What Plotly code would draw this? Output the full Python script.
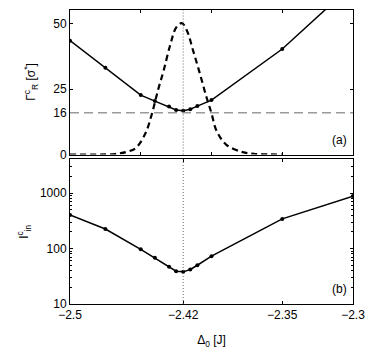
import plotly.graph_objects as go

# top panel: decay rate vs detuning
delta0 = [-2.5, -2.475, -2.45, -2.44, -2.43, -2.425, -2.42, -2.415, -2.41, -2.40, -2.35, -2.30]
gamma_rc = [43.5, 33.1, 22.7, 20.4, 18.3, 17.0, 16.7, 17.3, 18.5, 20.8, 40.3, 65.0]

# bottom panel: critical current (log)
i_in_c = [404, 225, 97, 68, 47, 39, 38, 42, 50, 73, 343, 884]

# dashed peak curve (top panel)
peak_x = [-2.5, -2.48, -2.47, -2.465, -2.46, -2.4535, -2.4466, -2.442, -2.4378, -2.4338,
          -2.4291, -2.425, -2.421, -2.4175, -2.4129, -2.4082, -2.4036, -2.40, -2.3967,
          -2.3897, -2.378, -2.37, -2.36, -2.35]
peak_y = [0, 0, 0.1, 0.4, 1.0, 2.5, 8.2, 15.8, 24.6, 32.1,
          42.0, 48.5, 50.2, 47.5, 39.5, 30.9, 22.0, 15.8, 9.4,
          3.8, 0.9, 0.3, 0.05, 0]

delta_star = -2.42
gamma_level = 16

minor_log = [20, 30, 40, 50, 60, 70, 80, 90, 200, 300, 400, 500, 600, 700, 800, 900, 2000, 3000, 4000]

font = dict(family="Liberation Sans, Arial, sans-serif", size=12, color="black")

fig = go.Figure()

fig.add_trace(go.Scatter(
    x=peak_x, y=peak_y, mode='lines', line=dict(color='black', width=2.2, dash='6px,4px', shape='spline'),
    xaxis='x', yaxis='y', showlegend=False
))
fig.add_trace(go.Scatter(
    x=delta0, y=gamma_rc, mode='lines+markers', line=dict(color='black', width=1.5),
    marker=dict(color='black', size=4), xaxis='x', yaxis='y', showlegend=False
))
fig.add_trace(go.Scatter(
    x=delta0, y=i_in_c, mode='lines+markers', line=dict(color='black', width=1.5),
    marker=dict(color='black', size=4), xaxis='x2', yaxis='y2', showlegend=False
))

# reference lines
fig.add_shape(type='line', xref='x domain', yref='y', x0=0, x1=1, y0=gamma_level, y1=gamma_level,
              line=dict(color='#9a9a9a', width=1.5, dash='9px,5px'))
fig.add_shape(type='line', xref='x', yref='y domain', x0=delta_star, x1=delta_star, y0=0, y1=1,
              line=dict(color='#666666', width=1, dash='1px,2px'))
fig.add_shape(type='line', xref='x2', yref='y2 domain', x0=delta_star, x1=delta_star, y0=0, y1=1,
              line=dict(color='#666666', width=1, dash='1px,2px'))

axis_common = dict(showline=True, linecolor='black', linewidth=1, mirror='ticks', ticks='inside',
                   ticklen=3, tickcolor='black', showgrid=False, zeroline=False, tickfont=font)

fig.update_layout(
    width=374, height=354,
    margin=dict(l=70, r=17, t=9, b=48),
    paper_bgcolor='white', plot_bgcolor='white',
    font=font,
    xaxis=dict(axis_common, domain=[0, 1], range=[-2.5, -2.3], anchor='y',
               tickvals=[-2.5, -2.45, -2.4, -2.35, -2.3], showticklabels=False),
    yaxis=dict(axis_common, domain=[0.5084, 1], range=[0, 55.2], anchor='x',
               tickvals=[0, 16, 25, 50]),
    xaxis2=dict(axis_common, domain=[0, 1], range=[-2.5, -2.3], anchor='y2',
                tickvals=[-2.5, -2.42, -2.35, -2.3], ticktext=['−2.5', '−2.42', '−2.35', '−2.3'],
                title=dict(text='Δ<sub>0</sub> [J]', standoff=14, font=font)),
    yaxis2=dict(axis_common, domain=[0, 0.4916], type='log', range=[1, 3.607], anchor='x2',
                tickvals=[10, 100, 1000], ticktext=['10', '100', '1000'],
                minor=dict(tickvals=minor_log, ticks='inside', ticklen=2, tickcolor='black', showgrid=False),
                title=dict(text='I<sup>c</sup><sub>in</sub>', standoff=8, font=font)),
)

# y title of top panel placed by hand (sits closer than the auto standoff allows)
fig.add_annotation(text='Γ<sup>c</sup><sub>R</sub> [σ<sup>*</sup>]', xref='paper', yref='y domain',
                   x=-0.136, y=0.5, xanchor='center', yanchor='middle', textangle=-90,
                   showarrow=False, font=font)

fig.add_annotation(text='(a)', xref='x domain', yref='y domain', x=0.985, y=0.04,
                   xanchor='right', yanchor='bottom', showarrow=False, font=font)
fig.add_annotation(text='(b)', xref='x2 domain', yref='y2 domain', x=0.985, y=0.04,
                   xanchor='right', yanchor='bottom', showarrow=False, font=font)

fig.write_html("out.html", config={'displayModeBar': False},
               post_script="document.body.style.margin='0';")
